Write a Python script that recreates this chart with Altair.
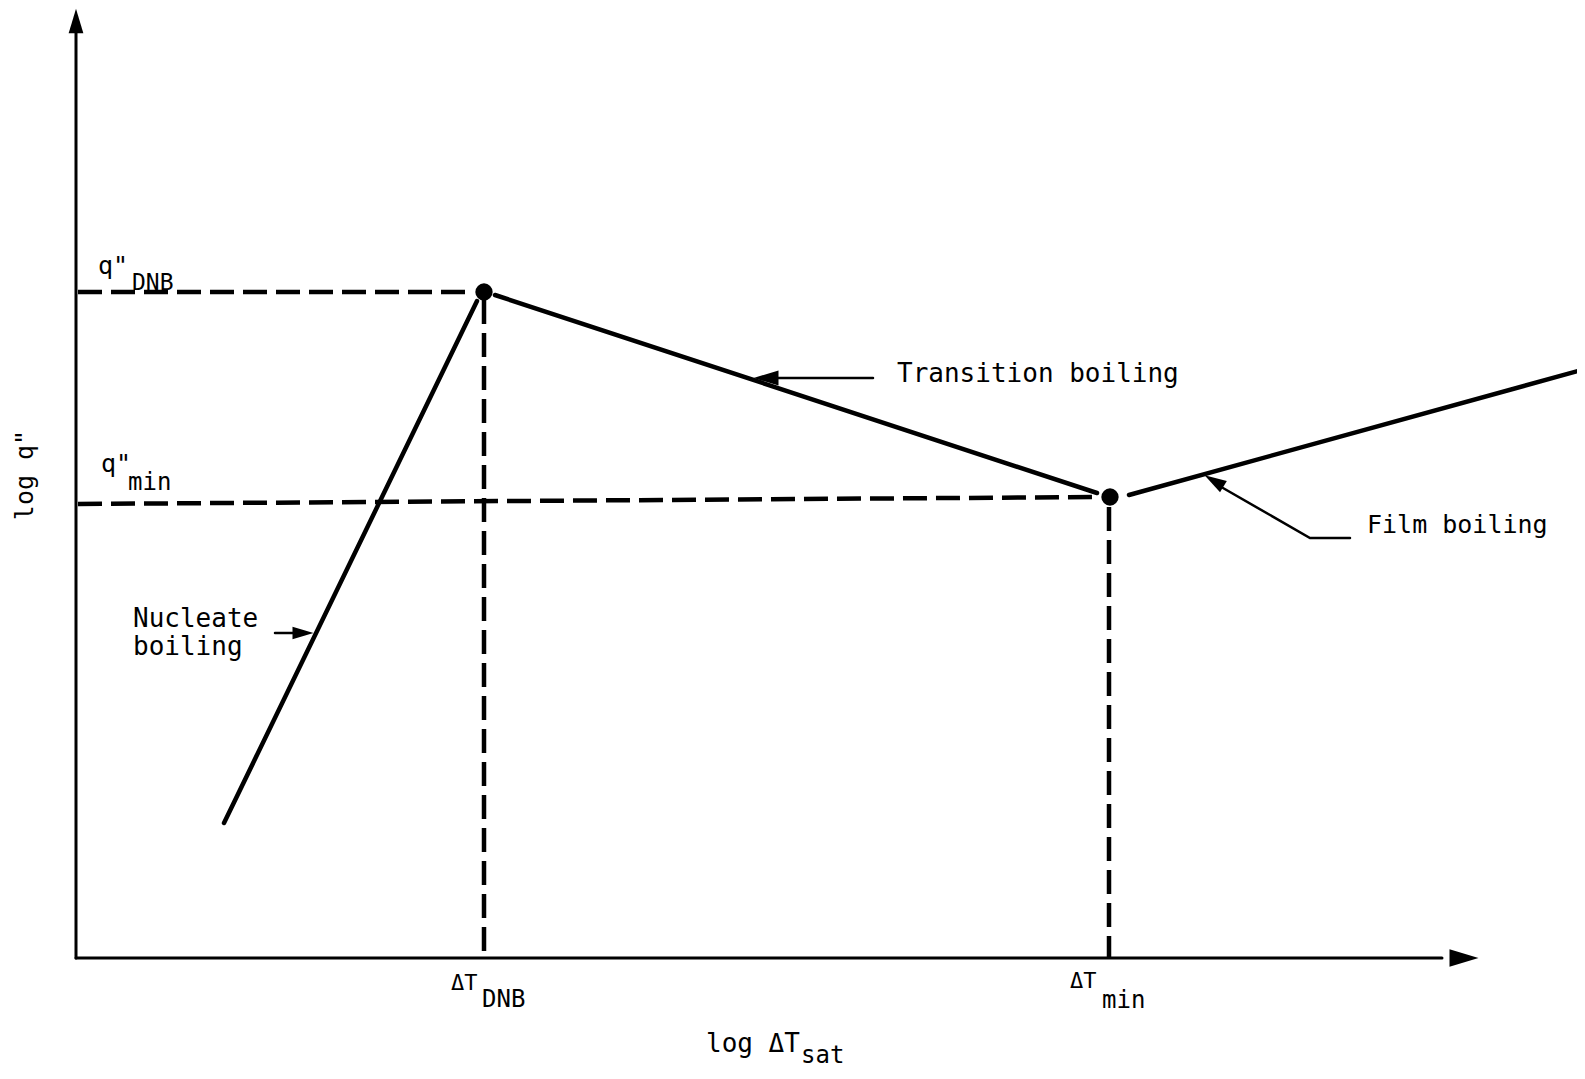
import altair as alt
import pandas as pd

# ---------------- data (diagram units: x = log dT_sat, y = log q") ----------------
nucleate_x = [14.8, 40.1]
nucleate_y = [13.5, 65.7]
transition_x = [41.9, 102.1]
transition_y = [66.3, 46.5]
film_x = [105.3, 150.9]
film_y = [46.3, 58.9]

point_names = ["DNB", "min"]
point_x = [40.8, 103.4]
point_y = [66.6, 46.1]

# dashed reference lines
qdnb_x = [0.2, 39.4]
qdnb_y = [66.6, 66.6]
qmin_x = [0.2, 102.1]
qmin_y = [45.4, 46.1]
tdnb_x = [40.8, 40.8]
tdnb_y = [65.8, 0.0]
tmin_x = [103.3, 103.3]
tmin_y = [45.1, 0.0]

# axes lines
yaxis_x = [0.0, 0.0]
yaxis_y = [0.0, 92.6]
xaxis_x = [0.0, 136.6]
xaxis_y = [0.0, 0.0]

# annotation arrows (line parts)
nuc_arrow_x = [19.9, 22.0]
nuc_arrow_y = [32.5, 32.5]
trans_arrow_x = [79.7, 70.0]
trans_arrow_y = [58.0, 58.0]
film_arrow_x = [127.4, 123.4, 114.7]
film_arrow_y = [42.0, 42.0, 47.0]

# arrowheads: x, y, angle, size
head_x = [0.0, 138.8, 22.7, 69.0, 113.8]
head_y = [93.7, 0.0, 32.5, 58.0, 47.7]
head_angle = [0, 90, 90, 270, 301]
head_size = [600, 841, 441, 625, 484]

# text labels
label_text = ['q"', "DNB", 'q"', "min", "Transition boiling", "Film boiling",
              "Nucleate", "boiling", "ΔT", "DNB", "ΔT", "min", "log ΔT", "sat"]
label_x = [2.2, 5.6, 2.5, 5.2, 82.1, 129.1, 5.7, 5.7, 37.5, 40.6, 99.4, 102.6, 63.0, 72.5]
label_y = [68.4, 66.8, 48.6, 46.8, 57.6, 42.5, 33.1, 30.3, -3.2, -4.9, -3.0, -5.0, -9.4, -10.5]
label_fs = [25, 23, 25, 24, 26, 25, 26, 26, 22, 24, 22, 24, 26, 24]

FONT = "DejaVu Sans Mono"
W, H = 1569, 1062

xs = alt.Scale(domain=[-6.8, 150.1], nice=False, zero=False)
ys = alt.Scale(domain=[-11.2, 95.0], nice=False, zero=False)


def seg_df(xv, yv):
    return pd.DataFrame({"x": xv, "y": yv, "o": list(range(len(xv)))})


def line_layer(xv, yv, width=4, dash=None, clip=False):
    kw = dict(color="black", strokeWidth=width, strokeCap="round", clip=clip)
    if dash:
        kw["strokeDash"] = dash
        kw["strokeCap"] = "butt"
    return alt.Chart(seg_df(xv, yv)).mark_line(**kw).encode(
        x=alt.X("x:Q", scale=xs, axis=None),
        y=alt.Y("y:Q", scale=ys, axis=None),
        order="o:Q",
    )


layers = []
# axes
layers.append(line_layer(yaxis_x, yaxis_y, width=3))
layers.append(line_layer(xaxis_x, xaxis_y, width=3))
# dashed guides
for gx, gy in [(qdnb_x, qdnb_y), (qmin_x, qmin_y), (tdnb_x, tdnb_y), (tmin_x, tmin_y)]:
    layers.append(line_layer(gx, gy, width=4.5, dash=[24, 9]))
# boiling curve
layers.append(line_layer(nucleate_x, nucleate_y, width=4.5))
layers.append(line_layer(transition_x, transition_y, width=4.5))
layers.append(line_layer(film_x, film_y, width=4.5, clip=True))
# annotation leader lines
layers.append(line_layer(nuc_arrow_x, nuc_arrow_y, width=2.5))
layers.append(line_layer(trans_arrow_x, trans_arrow_y, width=2.5))
layers.append(line_layer(film_arrow_x, film_arrow_y, width=2.5))

# arrowheads
ARROW = "M0,-1L0.6,1L-0.6,1Z"
for hx, hy, ha, hs in zip(head_x, head_y, head_angle, head_size):
    layers.append(
        alt.Chart(pd.DataFrame({"x": [hx], "y": [hy]}))
        .mark_point(shape=ARROW, filled=True, color="black", opacity=1,
                    size=hs, angle=ha, strokeWidth=0)
        .encode(x=alt.X("x:Q", scale=xs, axis=None),
                y=alt.Y("y:Q", scale=ys, axis=None))
    )

# key points
pts = pd.DataFrame({"name": point_names, "x": point_x, "y": point_y})
layers.append(
    alt.Chart(pts).mark_circle(color="black", opacity=1, size=300).encode(
        x=alt.X("x:Q", scale=xs, axis=None),
        y=alt.Y("y:Q", scale=ys, axis=None),
    )
)

# labels
labels = pd.DataFrame({"t": label_text, "x": label_x, "y": label_y, "fs": label_fs})
layers.append(
    alt.Chart(labels).mark_text(align="left", baseline="alphabetic", font=FONT,
                                color="black").encode(
        x=alt.X("x:Q", scale=xs, axis=None),
        y=alt.Y("y:Q", scale=ys, axis=None),
        text="t:N",
        size=alt.Size("fs:Q", scale=None, legend=None),
    )
)

# y-axis title (rotated)
layers.append(
    alt.Chart(pd.DataFrame({"t": ['log q"'], "x": [-5.1], "y": [48.3]}))
    .mark_text(align="center", baseline="middle", font=FONT, fontSize=25,
               angle=270, color="black")
    .encode(x=alt.X("x:Q", scale=xs, axis=None),
            y=alt.Y("y:Q", scale=ys, axis=None),
            text="t:N")
)

chart = (
    alt.layer(*layers)
    .properties(width=W, height=H, padding=0, autosize="none", background="white")
    .configure_view(stroke=None)
)

chart.save("out.html", embed_options={"renderer": "svg", "actions": False})
